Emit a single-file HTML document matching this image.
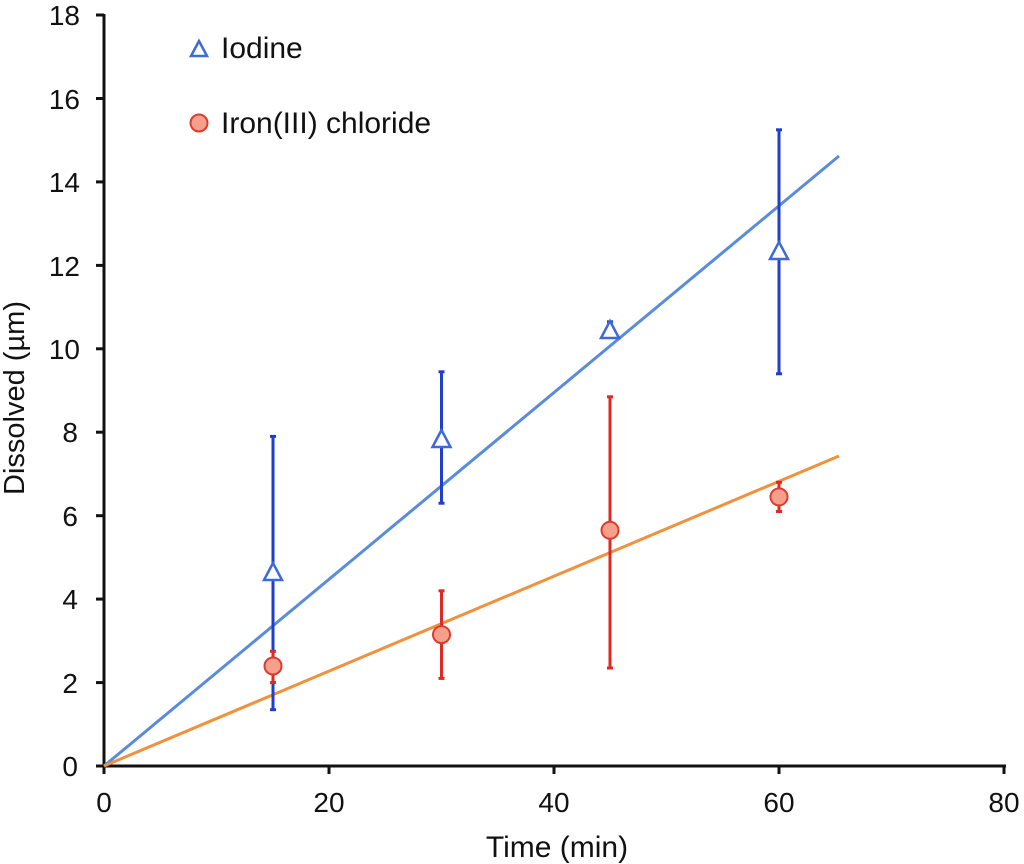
<!DOCTYPE html>
<html><head><style>html,body{margin:0;padding:0;background:#fff}svg{display:block}text{font-family:"Liberation Sans",Arial,sans-serif;fill:#111}</style></head>
<body>
<svg width="1024" height="864" viewBox="0 0 1024 864" xmlns="http://www.w3.org/2000/svg">
<g stroke="#111" stroke-width="3" fill="none">
<line x1="104" y1="14" x2="104" y2="767"/>
<line x1="103" y1="766" x2="1006" y2="766"/>
</g>
<g stroke="#111" stroke-width="3">
<line x1="96" y1="766" x2="104" y2="766"/><line x1="96" y1="682.6" x2="104" y2="682.6"/><line x1="96" y1="599.1" x2="104" y2="599.1"/><line x1="96" y1="515.7" x2="104" y2="515.7"/><line x1="96" y1="432.2" x2="104" y2="432.2"/><line x1="96" y1="348.8" x2="104" y2="348.8"/><line x1="96" y1="265.4" x2="104" y2="265.4"/><line x1="96" y1="181.9" x2="104" y2="181.9"/><line x1="96" y1="98.5" x2="104" y2="98.5"/><line x1="96" y1="15" x2="104" y2="15"/>
<line x1="104" y1="766" x2="104" y2="774"/><line x1="329" y1="766" x2="329" y2="774"/><line x1="554" y1="766" x2="554" y2="774"/><line x1="779" y1="766" x2="779" y2="774"/><line x1="1004" y1="766" x2="1004" y2="774"/>
</g>
<g font-size="28" text-anchor="end">
<text x="78" y="776">0</text><text x="78" y="693">2</text><text x="78" y="609">4</text><text x="78" y="526">6</text><text x="78" y="442">8</text><text x="80" y="359">10</text><text x="80" y="276">12</text><text x="80" y="192">14</text><text x="80" y="109">16</text><text x="80" y="25">18</text>
</g>
<g font-size="28" text-anchor="middle">
<text x="104" y="812">0</text><text x="329" y="812">20</text><text x="554" y="812">40</text><text x="779" y="812">60</text><text x="1004" y="812">80</text>
<text x="557" y="857" font-size="30">Time (min)</text>
<text transform="translate(24,398) rotate(-90)" font-size="29">Dissolved (µm)</text>
</g>
<line x1="104" y1="766" x2="839" y2="156" stroke="#5b8bdb" stroke-width="3"/>
<line x1="104" y1="766" x2="839" y2="456" stroke="#f0913e" stroke-width="3"/>
<g stroke="#1d3fcc" stroke-width="3">
<line x1="273" y1="709.7" x2="273" y2="436.4"/><line x1="270" y1="709.7" x2="276" y2="709.7"/><line x1="270" y1="436.4" x2="276" y2="436.4"/>
<line x1="441.5" y1="503.2" x2="441.5" y2="371.8"/><line x1="438.5" y1="503.2" x2="444.5" y2="503.2"/><line x1="438.5" y1="371.8" x2="444.5" y2="371.8"/>
<line x1="610" y1="336.3" x2="610" y2="321.8"/><line x1="607" y1="321.8" x2="613" y2="321.8"/>
<line x1="779" y1="373.8" x2="779" y2="129.8"/><line x1="776" y1="373.8" x2="782" y2="373.8"/><line x1="776" y1="129.8" x2="782" y2="129.8"/>
</g>
<g stroke="#dd2a22" stroke-width="3">
<line x1="273" y1="682.6" x2="273" y2="651.3"/><line x1="270" y1="682.6" x2="276" y2="682.6"/><line x1="270" y1="651.3" x2="276" y2="651.3"/>
<line x1="441.5" y1="678.4" x2="441.5" y2="590.8"/><line x1="438.5" y1="678.4" x2="444.5" y2="678.4"/><line x1="438.5" y1="590.8" x2="444.5" y2="590.8"/>
<line x1="610" y1="668" x2="610" y2="396.8"/><line x1="607" y1="668" x2="613" y2="668"/><line x1="607" y1="396.8" x2="613" y2="396.8"/>
<line x1="779" y1="511.5" x2="779" y2="482.3"/><line x1="776" y1="511.5" x2="782" y2="511.5"/><line x1="776" y1="482.3" x2="782" y2="482.3"/>
</g>
<g fill="#fff" stroke="#3d6ad6" stroke-width="2.5">
<polygon points="273,563 264,580 282,580"/>
<polygon points="441.5,430 432.5,447 450.5,447"/>
<polygon points="610,321 601,338 619,338"/>
<polygon points="779,242 770,259 788,259"/>
<polygon points="199,41 191,56 207,56"/>
</g>
<g fill="#f6a08b" stroke="#dd3b2f" stroke-width="2">
<circle cx="273" cy="666" r="8.5"/><circle cx="441.5" cy="634.6" r="8.5"/><circle cx="610" cy="530.3" r="8.5"/><circle cx="779" cy="496.9" r="8.5"/>
<circle cx="199" cy="123" r="8.5"/>
</g>
<g font-size="30"><text x="221" y="58">Iodine</text><text x="221" y="133">Iron(III) chloride</text></g>
</svg>
</body></html>
